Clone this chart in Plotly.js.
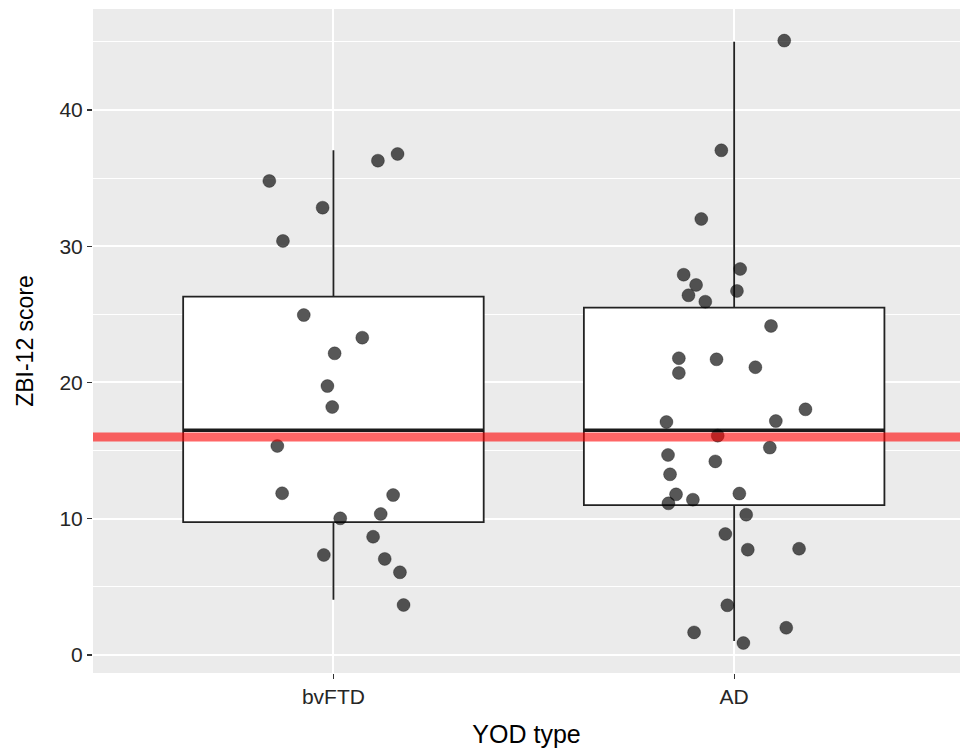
<!DOCTYPE html>
<html>
<head>
<meta charset="utf-8">
<script src="https://cdn.plot.ly/plotly-3.0.1.min.js"></script>
<style>html,body{margin:0;padding:0;background:#fff;}#chart{width:960px;height:748px;}</style>
</head>
<body>
<div id="chart"></div>
<script>
// ---- data ----
const categories = ['bvFTD', 'AD'];

// box statistics per category
const boxQ1 = [9.75, 11.0];
const boxMedian = [16.5, 16.5];
const boxQ3 = [26.3, 25.5];
const boxLower = [4.05, 1.03];
const boxUpper = [37.05, 45.0];

// jittered points: horizontal jitter offset from category centre, and score
const bvftdJitter = [-0.160, -0.027, 0.111, 0.160, -0.126, -0.074, 0.072, 0.003, -0.015, -0.003,
                     -0.140, -0.128, 0.149, 0.118, 0.017, 0.099, -0.024, 0.128, 0.166, 0.175];
const bvftdScore  = [34.79, 32.83, 36.28, 36.77, 30.39, 24.95, 23.29, 22.14, 19.74, 18.20,
                     15.34, 11.87, 11.74, 10.35, 10.03, 8.68, 7.34, 7.05, 6.07, 3.67];

const adJitter = [0.125, -0.032, -0.082, -0.126, 0.015, -0.095, -0.114, 0.007, -0.072, 0.092,
                  -0.138, -0.044, -0.138, 0.053, 0.178, -0.169, 0.104, -0.041, 0.089, -0.165,
                  -0.047, -0.160, -0.145, -0.103, 0.013, -0.164, 0.030, -0.022, 0.034, 0.162,
                  -0.017, -0.100, 0.130, 0.023];
const adScore  = [45.09, 37.04, 32.00, 27.91, 28.33, 27.16, 26.40, 26.72, 25.93, 24.15,
                  21.78, 21.70, 20.70, 21.12, 18.03, 17.10, 17.17, 16.10, 15.22, 14.68,
                  14.21, 13.26, 11.79, 11.40, 11.85, 11.13, 10.30, 8.88, 7.73, 7.80,
                  3.65, 1.66, 2.00, 0.88];

const referenceLine = [16.0];

// ---- build traces ----
const catPos = categories.map((c, i) => i + 1);
const boxWidth = 0.75;

const boxTrace = {
  type: 'box',
  x: catPos,
  q1: boxQ1, median: boxMedian, q3: boxQ3,
  lowerfence: boxLower, upperfence: boxUpper,
  width: boxWidth,
  fillcolor: '#ffffff',
  line: {color: '#222222', width: 1.8},
  whiskerwidth: 0,
  boxpoints: false,
  hoverinfo: 'skip',
  showlegend: false
};

// thicker median lines (ggplot fattened median)
const medX = [], medY = [];
catPos.forEach((p, i) => {
  medX.push(p - boxWidth / 2, p + boxWidth / 2, null);
  medY.push(boxMedian[i], boxMedian[i], null);
});
const medianTrace = {
  type: 'scatter', mode: 'lines', x: medX, y: medY,
  line: {color: '#1a1a1a', width: 3.4}, hoverinfo: 'skip', showlegend: false
};

const ptX = bvftdJitter.map(d => catPos[0] + d).concat(adJitter.map(d => catPos[1] + d));
const ptY = bvftdScore.concat(adScore);
const pointTrace = {
  type: 'scatter', mode: 'markers', x: ptX, y: ptY,
  marker: {size: 13, color: 'rgba(0,0,0,0.66)', line: {color: 'rgba(0,0,0,0.3)', width: 1}},
  hoverinfo: 'skip', showlegend: false
};

const layout = {
  width: 960, height: 748,
  margin: {l: 93, r: 0, t: 9, b: 75},
  paper_bgcolor: '#ffffff',
  plot_bgcolor: '#EBEBEB',
  font: {family: 'Liberation Sans, Arial, sans-serif', color: '#000'},
  showlegend: false,
  xaxis: {
    range: [0.4, 2.5636],
    tickvals: catPos, ticktext: categories,
    showgrid: true, gridcolor: '#ffffff', gridwidth: 2,
    zeroline: false, showline: false,
    ticks: 'outside', ticklen: 5, tickwidth: 1.2, tickcolor: '#333333',
    tickfont: {size: 21, color: '#262626'},
    title: {text: 'YOD type', font: {size: 25, color: '#000'}, standoff: 18}
  },
  yaxis: {
    range: [-1.32, 47.41],
    tickvals: [0, 10, 20, 30, 40],
    showgrid: true, gridcolor: '#ffffff', gridwidth: 2,
    minor: {tickvals: [5, 15, 25, 35, 45], showgrid: true, gridcolor: '#ffffff', gridwidth: 1, ticks: ''},
    zeroline: false, showline: false,
    ticks: 'outside', ticklen: 5, tickwidth: 1.2, tickcolor: '#333333',
    tickfont: {size: 21, color: '#262626'},
    title: {text: 'ZBI-12 score', font: {size: 23, color: '#000'}, standoff: 19}
  },
  shapes: referenceLine.map(v => ({
    type: 'line', xref: 'paper', x0: 0, x1: 1, yref: 'y', y0: v, y1: v,
    line: {color: 'rgba(255,0,0,0.6)', width: 9}, layer: 'above'
  }))
};

Plotly.newPlot('chart', [boxTrace, medianTrace, pointTrace], layout, {staticPlot: true, displayModeBar: false});
</script>
</body>
</html>
